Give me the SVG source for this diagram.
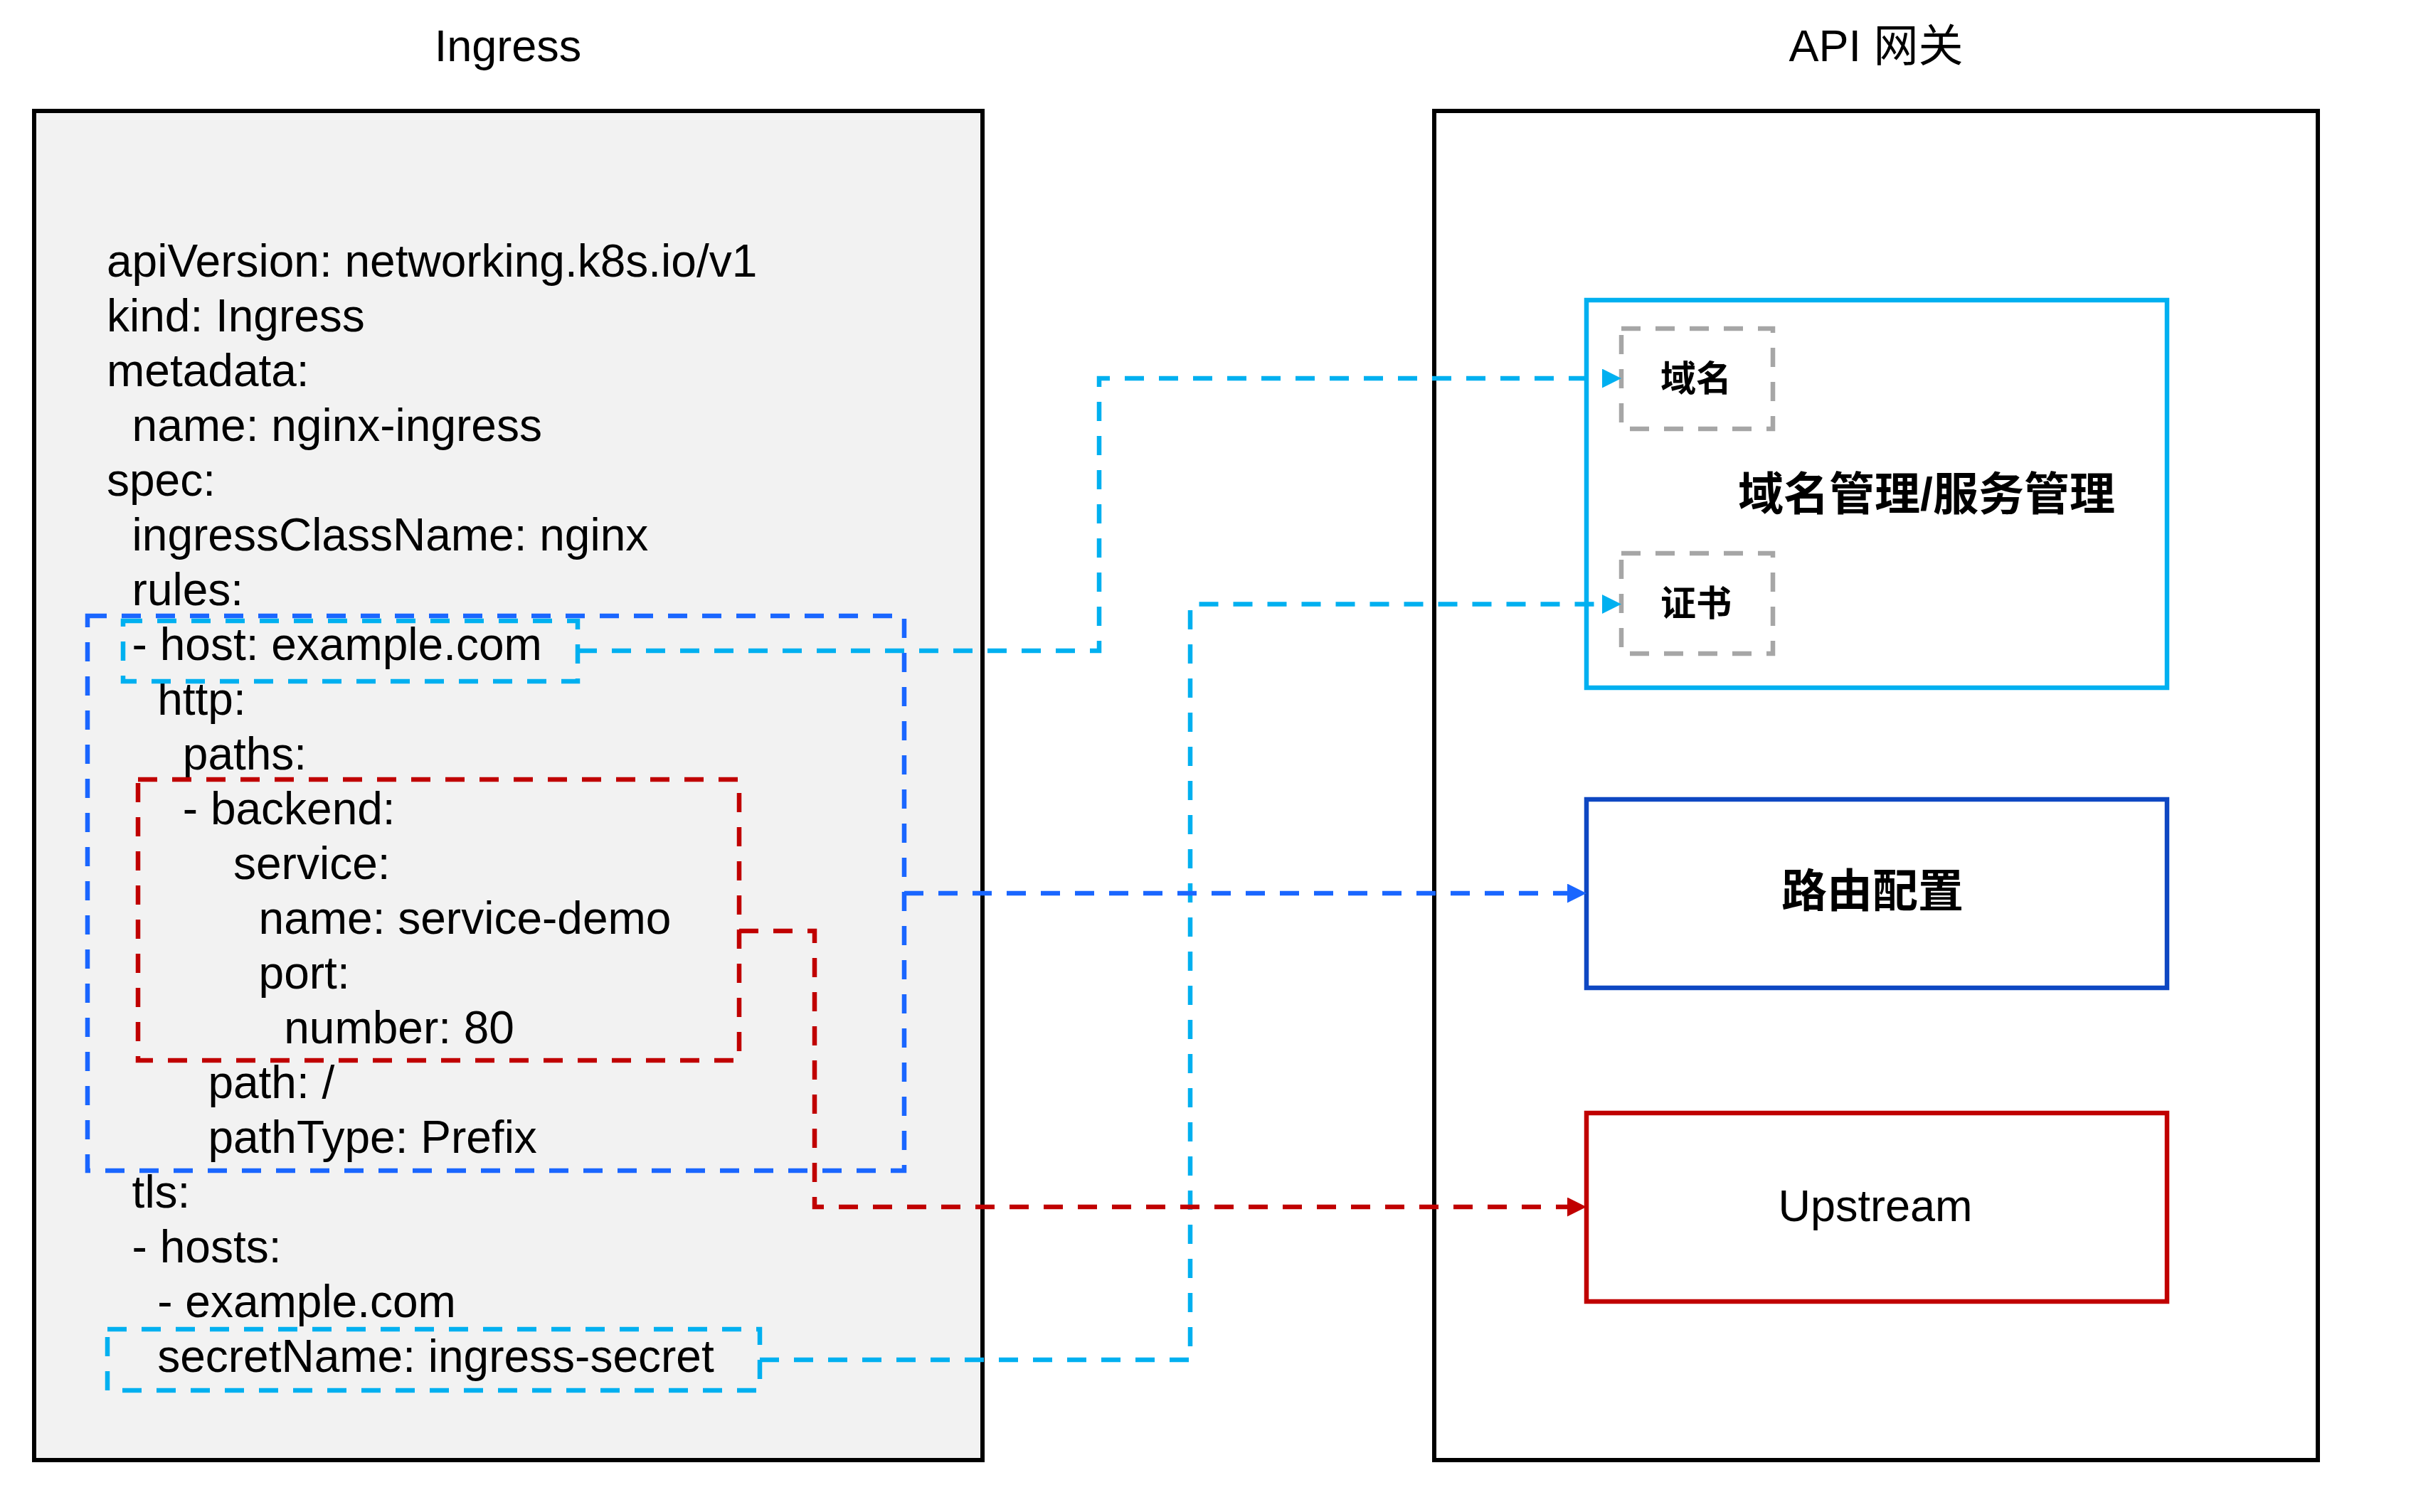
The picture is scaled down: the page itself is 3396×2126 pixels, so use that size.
<svg xmlns="http://www.w3.org/2000/svg" width="3396" height="2126" viewBox="0 0 3396 2126">
<style>
text{font-family:"Liberation Sans",Arial,Helvetica,"Noto Sans CJK SC",sans-serif;font-size:63px;fill:#000}
.code text{font-size:64px}
.cjk{font-family:"Liberation Sans","Noto Sans CJK SC",sans-serif;font-weight:bold}
.c{text-anchor:middle}
.dash{fill:none;stroke-width:6.5;stroke-dasharray:27 21}
.lb{stroke:#00b0f0}
.bl{stroke:#1a66ff}
.rd{stroke:#c00000}
.gr{stroke:#a6a6a6}
</style>
<defs>
<marker id="aLB" markerUnits="userSpaceOnUse" markerWidth="28" markerHeight="28" refX="0" refY="13.5" orient="auto"><path d="M0,0 L27,13.5 L0,27 Z" fill="#00b0f0"/></marker>
<marker id="aBL" markerUnits="userSpaceOnUse" markerWidth="28" markerHeight="28" refX="0" refY="13.5" orient="auto"><path d="M0,0 L27,13.5 L0,27 Z" fill="#1a66ff"/></marker>
<marker id="aRD" markerUnits="userSpaceOnUse" markerWidth="28" markerHeight="28" refX="0" refY="13.5" orient="auto"><path d="M0,0 L27,13.5 L0,27 Z" fill="#c00000"/></marker>
</defs>
<rect width="3396" height="2126" fill="#fff"/>

<g id="ingress">
<text class="c" x="714" y="86">Ingress</text>
<rect x="48" y="156" width="1333" height="1897" fill="#f2f2f2" stroke="#000" stroke-width="6"/>
<g id="yaml" class="code">
<text x="150" y="389">apiVersion: networking.k8s.io/v1</text>
<text x="150" y="466">kind: Ingress</text>
<text x="150" y="543">metadata:</text>
<text x="185.6" y="620">name: nginx-ingress</text>
<text x="150" y="697">spec:</text>
<text x="185.6" y="774">ingressClassName: nginx</text>
<text x="185.6" y="851">rules:</text>
<text x="185.6" y="928">- host: example.com</text>
<text x="221.2" y="1005">http:</text>
<text x="256.8" y="1082">paths:</text>
<text x="256.8" y="1159">- backend:</text>
<text x="328" y="1236">service:</text>
<text x="363.6" y="1313">name: service-demo</text>
<text x="363.6" y="1390">port:</text>
<text x="399.2" y="1467">number: 80</text>
<text x="292.4" y="1544">path: /</text>
<text x="292.4" y="1621">pathType: Prefix</text>
<text x="185.6" y="1698">tls:</text>
<text x="185.6" y="1775">- hosts:</text>
<text x="221.2" y="1852">- example.com</text>
<text x="221.2" y="1929">secretName: ingress-secret</text>
</g>
<rect id="route-block" class="dash bl" x="123" y="866" width="1148" height="780"/>
<rect id="host-block" class="dash lb" x="173" y="873" width="639" height="85"/>
<rect id="backend-block" class="dash rd" x="194" y="1096" width="845" height="395"/>
<rect id="secret-block" class="dash lb" x="151" y="1869" width="917" height="86"/>
</g>

<g id="gateway">
<text class="c" x="2637" y="86">API 网关</text>
<rect x="2016" y="156" width="1242" height="1897" fill="#fff" stroke="#000" stroke-width="6"/>
</g>

<g id="domain-service">
<rect x="2230" y="422" width="816" height="545" fill="none" stroke="#00b0f0" stroke-width="6.5"/>
<text class="c cjk" x="2708" y="717" style="font-size:64px">域名管理/服务管理</text>
</g>
<g id="domain">
<rect class="dash gr" x="2279" y="462" width="213" height="141"/>
<text class="c cjk" x="2384" y="550" style="font-size:50px">域名</text>
</g>
<g id="cert">
<rect class="dash gr" x="2279" y="778" width="213" height="141"/>
<text class="c cjk" x="2384" y="866" style="font-size:50px">证书</text>
</g>
<g id="route">
<rect x="2230" y="1124" width="816" height="265" fill="none" stroke="#0e47c2" stroke-width="6.5"/>
<text class="c cjk" x="2632" y="1275" style="font-size:64px">路由配置</text>
</g>
<g id="upstream">
<rect x="2230" y="1565" width="816" height="265" fill="none" stroke="#c00000" stroke-width="6.5"/>
<text class="c" x="2636" y="1717">Upstream</text>
</g>

<g id="connectors">
<path class="dash lb" d="M812,915 H1545 V532 H2252" marker-end="url(#aLB)"/>
<path class="dash lb" d="M1068,1912 H1673 V849.5 H2252" marker-end="url(#aLB)"/>
<path class="dash bl" d="M1271,1256 H2203" marker-end="url(#aBL)"/>
<path class="dash rd" d="M1039,1309 H1145 V1697 H2203" marker-end="url(#aRD)"/>
</g>
</svg>
